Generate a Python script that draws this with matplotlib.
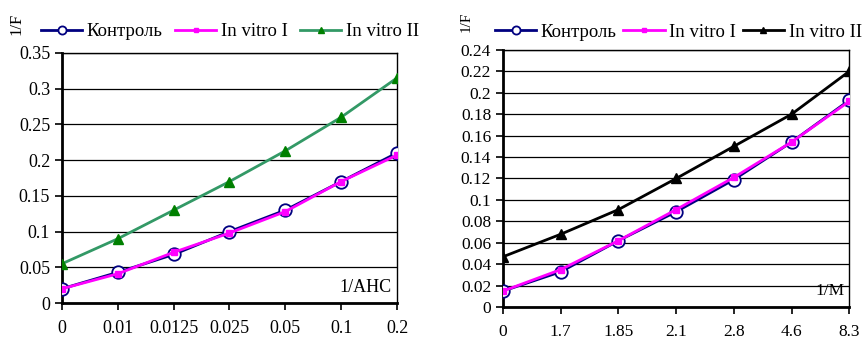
import matplotlib.pyplot as plt

plt.rcParams['font.family'] = ['Liberation Serif', 'DejaVu Serif']

# Left chart: 1/F vs 1/AHC
cats_left = ["0", "0.01", "0.0125", "0.025", "0.05", "0.1", "0.2"]
ctrl_left = [0.020, 0.043, 0.068, 0.100, 0.130, 0.170, 0.210]
vitro1_left = [0.020, 0.041, 0.071, 0.098, 0.128, 0.170, 0.207]
vitro2_left = [0.055, 0.090, 0.130, 0.170, 0.213, 0.260, 0.315]

# Right chart: 1/F vs 1/M
cats_right = ["0", "1.7", "1.85", "2.1", "2.8", "4.6", "8.3"]
ctrl_right = [0.015, 0.033, 0.062, 0.089, 0.119, 0.154, 0.193]
vitro1_right = [0.015, 0.035, 0.062, 0.091, 0.121, 0.154, 0.192]
vitro2_right = [0.047, 0.068, 0.091, 0.120, 0.150, 0.180, 0.220]

labels = ["Контроль", "In vitro I", "In vitro II"]

fig = plt.figure(figsize=(8.68, 3.39), dpi=100)
ax1 = fig.add_axes([0.0714, 0.106, 0.386, 0.738])
ax2 = fig.add_axes([0.5795, 0.094, 0.399, 0.759])


def draw(ax, cats, ctrl, v1, v2, v2_line, v2_face, ymax, ystep, xlabel,
         leg_xy, colsp, fs, ylab_x, ylab_fs):
    x = list(range(len(cats)))
    l1, = ax.plot(x, ctrl, color='#000080', lw=2, marker='o', ms=9,
                  mfc='white', mec='#000080', mew=1.3, zorder=3)
    l2, = ax.plot(x, v1, color='#FF00FF', lw=2, marker='s', ms=4.5,
                  mfc='#FF00FF', mec='#FF00FF', zorder=4)
    l3, = ax.plot(x, v2, color=v2_line, lw=2, marker='^', ms=7,
                  mfc=v2_face, mec=v2_face, zorder=3)
    ax.set_xlim(0, len(cats) - 1)
    ax.set_ylim(0, ymax)
    ax.set_xticks(x)
    ax.set_xticklabels(cats)
    n = int(round(ymax / ystep))
    yt = [i * ystep for i in range(n + 1)]
    ax.set_yticks(yt)
    ax.set_yticklabels(["0"] + [f"{v:g}" for v in yt[1:]])
    ax.yaxis.grid(True, color='black', lw=0.9)
    ax.set_axisbelow(True)
    ax.tick_params(labelsize=fs, direction='out', length=5, width=1.2, color='black')
    ax.tick_params(axis='x', pad=7)
    for s in ['left', 'bottom']:
        ax.spines[s].set_linewidth(2)
    for s in ['top', 'right']:
        ax.spines[s].set_linewidth(1)
    ax.text(0.985, 0.03, xlabel, transform=ax.transAxes, ha='right', va='bottom', fontsize=fs)
    ax.legend([l1, l2, l3], labels, loc='lower left', bbox_to_anchor=leg_xy,
              ncol=3, frameon=False, fontsize=13.5, handlelength=2.2, markerscale=0.65,
              handletextpad=0.25, columnspacing=colsp, borderaxespad=0.2, borderpad=0.2)
    ax.text(ylab_x, 1.07, "1/F", transform=ax.transAxes, rotation=90,
            ha='center', va='bottom', fontsize=ylab_fs)


draw(ax1, cats_left, ctrl_left, vitro1_left, vitro2_left, '#339966', '#008000',
     0.35, 0.05, "1/AHC", (-0.085, 1.02), 0.65, 13, -0.135, 12)
draw(ax2, cats_right, ctrl_right, vitro1_right, vitro2_right, 'black', 'black',
     0.24, 0.02, "1/M", (-0.045, 1.005), 0.35, 12.5, -0.105, 11)

fig.savefig("out.png", dpi=100)
